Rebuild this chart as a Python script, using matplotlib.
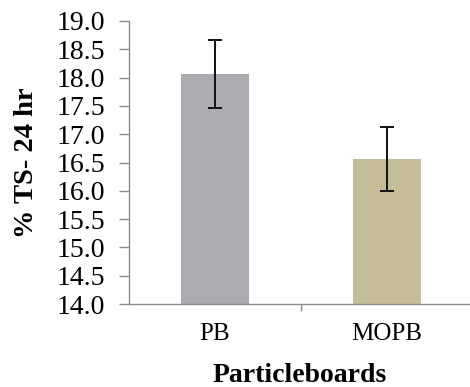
import matplotlib
matplotlib.use("Agg")
import matplotlib.pyplot as plt

categories = ["PB", "MOPB"]
values = [18.06, 16.56]
errors = [0.60, 0.57]
colors = ["#AAACAF", "#C5BD98"]
yticks = [14.0, 14.5, 15.0, 15.5, 16.0, 16.5, 17.0, 17.5, 18.0, 18.5, 19.0]

W, H = 470, 387
fig = plt.figure(figsize=(W / 100, H / 100), dpi=100)
ax = fig.add_axes([129 / W, 1 - 304 / H, (473 - 129) / W, (304 - 21) / H])

x = list(range(len(categories)))
ax.bar(x, [v - 14.0 for v in values], bottom=14.0, width=0.4, color=colors,
       yerr=errors, error_kw=dict(ecolor="#111111", elinewidth=1.4, capsize=5, capthick=1.4),
       zorder=2)

ax.set_ylim(14.0, 19.0)
ax.set_xlim(-0.5, 1.5)
ax.set_yticks(yticks)
ax.set_yticklabels([f"{t:.1f}" for t in yticks])
ax.set_xticks(x)
ax.set_xticklabels(categories)
ax.set_xticks([0.5], minor=True)

serif = "Liberation Serif"
for lab in ax.get_yticklabels() + ax.get_xticklabels():
    lab.set_fontfamily(serif)
ax.tick_params(axis="y", which="major", length=7, width=1, color="#8c8c8c",
               labelsize=20, pad=10, direction="out")
ax.tick_params(axis="x", which="major", length=0, labelsize=18, pad=14)
ax.tick_params(axis="x", which="minor", length=5, width=1, color="#8c8c8c", direction="out")

for s in ["top", "right"]:
    ax.spines[s].set_visible(False)
for s in ["left", "bottom"]:
    ax.spines[s].set_color("#8c8c8c")
    ax.spines[s].set_linewidth(1.0)

ax.set_ylabel("% TS- 24 hr", fontfamily=serif, fontweight="bold", fontsize=20.5)
ax.yaxis.set_label_coords((27 - 129) / (473 - 129), 0.5)
ax.yaxis.label.set_va("center")
ax.set_xlabel("Particleboards", fontfamily=serif, fontweight="bold", fontsize=20)
ax.xaxis.set_label_coords((300 - 129) / (473 - 129), -(375 - 304) / (304 - 21))
ax.xaxis.label.set_va("center")

fig.savefig("out.png", dpi=100)
